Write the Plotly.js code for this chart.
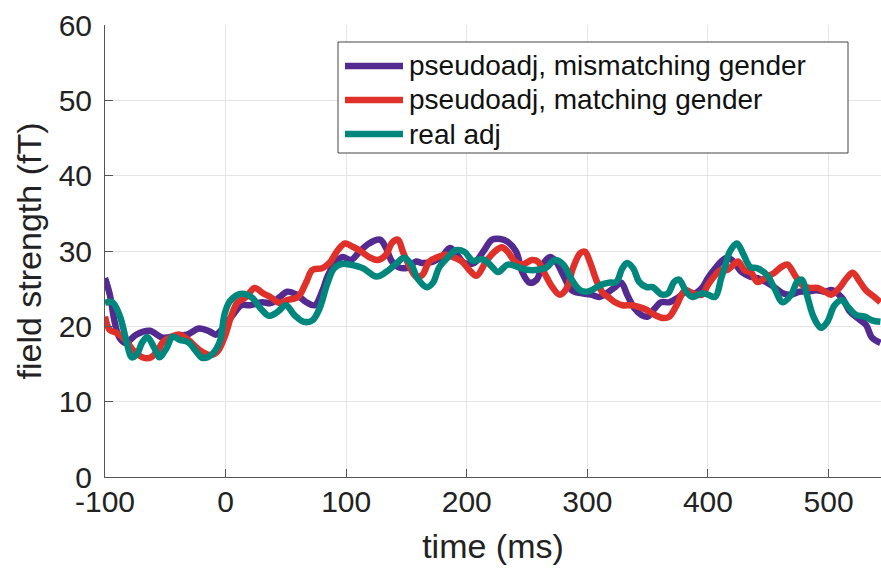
<!DOCTYPE html>
<html>
<head>
<meta charset="utf-8">
<script src="https://cdn.plot.ly/plotly-3.0.1.min.js"></script>
<style>html,body{margin:0;padding:0;background:#fff;}#chart{width:881px;height:570px;}</style>
</head>
<body>
<div id="chart"></div>
<script>
// Series names
const seriesNames = ["pseudoadj, mismatching gender", "pseudoadj, matching gender", "real adj"];

// pseudoadj, mismatching gender (time ms, field strength fT)
const mismatchX = [-100,-96,-92,-88,-83,-74,-63,-52,-42,-32,-22,-13,-8,-2,6,13,20,30,38,45,51,59,67,74,80,85,92,97,104,111,119,128,133,138,144,151,158,163,172,179,186,191,198,206,214,221,228,234,241,246,252,258,263,269,274,280,287,295,303,310,316,323,328,333,339,345,350,356,361,368,375,382,389,395,400,406,411,416,420,428,435,441,449,455,462,469,476,482,490,497,503,511,518,524,531,536,543];
const mismatchY = [26.4,24.2,20.6,18.5,17.8,18.9,19.4,18.5,18.7,18.9,19.7,19.3,18.9,19.8,21.5,22.8,22.8,23.2,23.1,23.9,24.6,24.2,23.2,22.8,24.6,26.8,28.6,29.2,28.8,29.9,31.0,31.5,30.4,28.6,27.8,27.8,28.6,28.4,28.6,29.2,30.4,29.7,28.4,28.4,30.0,31.5,31.6,31.2,29.9,27.2,25.8,26.2,28.2,29.2,28.6,26.8,24.8,24.4,24.2,23.9,24.4,25.2,25.8,24.2,22.4,21.5,21.3,22.4,23.2,23.2,23.8,24.6,24.4,25.1,26.4,27.7,28.6,29.1,28.8,27.2,26.6,26.4,25.8,25.2,24.4,24.2,24.6,24.6,24.8,24.6,24.8,23.8,21.9,21.1,20.2,18.5,17.8];

// pseudoadj, matching gender
const matchX = [-100,-96,-90,-83,-77,-69,-63,-57,-52,-45,-38,-31,-22,-13,-7,-1,5,10,17,24,31,38,45,51,60,67,72,80,86,93,99,105,111,119,126,133,138,143,147,153,158,163,169,176,183,190,196,202,208,216,223,229,234,240,246,254,259,264,271,277,283,288,294,298,302,308,313,318,323,329,337,342,349,356,363,368,374,381,387,395,400,406,411,416,420,425,430,436,441,449,455,461,466,472,478,484,491,497,502,509,515,520,526,531,538,543];
const matchY = [21.3,19.5,19.1,18.2,16.9,15.9,15.8,16.6,17.9,18.6,18.9,18.2,16.9,16.2,16.6,18.5,21.5,23.2,23.9,25.1,24.4,23.8,23.1,23.5,23.9,25.9,27.5,27.7,28.4,30.1,31.0,30.6,30.1,29.2,28.8,29.5,31.1,31.5,29.9,27.8,26.6,26.8,28.6,29.2,29.5,29.1,28.6,27.5,26.7,28.6,29.9,30.5,29.9,28.6,28.2,28.8,28.6,27.2,25.2,24.2,25.1,27.7,29.7,29.9,28.6,25.9,24.4,23.8,23.2,22.8,22.8,22.6,22.2,21.5,21.1,21.3,22.8,24.8,24.4,24.2,25.5,26.8,27.5,27.5,28.0,28.6,27.5,27.1,25.9,26.6,27.1,27.9,28.2,26.8,25.5,25.1,25.1,24.6,24.2,25.1,26.4,27.1,25.9,24.8,23.9,23.2];

// real adj
const realX = [-100,-94,-88,-82,-78,-74,-69,-65,-59,-55,-49,-44,-38,-31,-24,-19,-12,-5,-1,3,10,16,22,30,36,43,50,57,65,72,78,84,90,97,103,114,125,133,142,148,154,159,167,172,177,184,191,198,205,211,215,221,226,234,242,250,259,266,273,280,287,294,300,308,313,318,324,329,333,338,343,349,354,362,367,372,376,382,387,395,400,406,411,415,418,424,429,435,441,449,455,462,469,474,478,482,488,494,499,505,511,516,523,530,536,543];
const realY = [23.1,23.2,21.5,17.9,15.9,16.2,17.9,18.6,17.1,15.9,17.1,18.6,18.2,17.9,16.6,15.8,16.2,17.9,21.5,23.2,24.2,24.3,23.8,22.2,21.4,21.9,22.8,21.5,20.6,20.8,22.4,25.5,27.7,28.3,28.2,27.7,26.6,27.2,28.4,29.1,28.2,26.4,25.2,25.8,27.8,29.1,30.1,29.9,28.7,28.9,28.8,27.9,27.2,28.2,27.9,27.5,27.5,27.8,28.8,28.2,26.2,24.8,24.6,25.2,25.6,25.8,25.9,27.7,28.4,27.7,25.9,25.2,25.2,24.2,24.4,25.9,26.2,24.6,23.9,24.4,24.2,23.9,26.4,28.4,29.9,31.0,29.7,27.9,27.7,26.8,25.1,23.2,24.2,25.9,26.2,24.2,21.1,19.8,20.6,22.8,23.5,22.6,21.5,21.3,20.8,20.6];

// Axis ticks
const xTicks = [-100, 0, 100, 200, 300, 400, 500];
const yTicks = [0, 10, 20, 30, 40, 50, 60];

const colors = ["#532a90", "#e0302a", "#00877d"];
const FONT = "Liberation Sans, Arial, Helvetica, sans-serif";

const mk = (x, y, i) => ({
  x: x, y: y, type: "scatter", mode: "lines", name: seriesNames[i],
  line: {color: colors[i], width: 6.5, shape: "spline", smoothing: 1}
});

const data = [mk(mismatchX, mismatchY, 0), mk(matchX, matchY, 1), mk(realX, realY, 2)];

// Plot-area geometry (px) used to place the MATLAB-style legend box
const W = 881, H = 570, M = {l: 105, r: 0, t: 25, b: 93};
const pw = W - M.l - M.r, ph = H - M.t - M.b;
const px2x = p => (p - M.l) / pw;
const py2y = p => (H - M.b - p) / ph;

const legendBox = {left: 338, right: 848, top: 42, bottom: 153};
const rowY = [66, 100, 134];
const shapes = [{
  type: "rect", xref: "paper", yref: "paper", layer: "above",
  x0: px2x(legendBox.left), x1: px2x(legendBox.right),
  y0: py2y(legendBox.bottom), y1: py2y(legendBox.top),
  fillcolor: "#fff", line: {color: "#444", width: 1}
}];
const annotations = [];
seriesNames.forEach((name, i) => {
  shapes.push({
    type: "line", xref: "paper", yref: "paper", layer: "above",
    x0: px2x(345), x1: px2x(403), y0: py2y(rowY[i]), y1: py2y(rowY[i]),
    line: {color: colors[i], width: 6.5}
  });
  annotations.push({
    xref: "paper", yref: "paper", x: px2x(407), y: py2y(rowY[i]),
    xanchor: "left", yanchor: "middle", showarrow: false, text: name,
    font: {family: FONT, size: 28, color: "#111"}
  });
});

const axisCommon = {
  showline: true, linecolor: "#555", linewidth: 1,
  ticks: "inside", ticklen: 8, tickcolor: "#555", tickwidth: 1,
  showgrid: true, gridcolor: "#e4e4e4", gridwidth: 1,
  zeroline: false, tickfont: {family: FONT, size: 30, color: "#222"}
};

const layout = {
  width: W, height: H,
  margin: M,
  paper_bgcolor: "#fff", plot_bgcolor: "#fff",
  showlegend: false,
  xaxis: Object.assign({}, axisCommon, {
    range: [-100, 543.5], tickvals: xTicks, ticktext: xTicks.map(String),
    ticklabelstandoff: -2,
    title: {text: "time (ms)", font: {family: FONT, size: 34, color: "#222"}, standoff: 17}
  }),
  yaxis: Object.assign({}, axisCommon, {
    range: [0, 60], tickvals: yTicks, ticktext: yTicks.map(String),
    ticklabelstandoff: 6,
    title: {text: "field strength (fT)", font: {family: FONT, size: 34, color: "#222"}, standoff: 6}
  }),
  shapes: shapes,
  annotations: annotations
};

Plotly.newPlot("chart", data, layout, {staticPlot: true, displayModeBar: false});
</script>
</body>
</html>
